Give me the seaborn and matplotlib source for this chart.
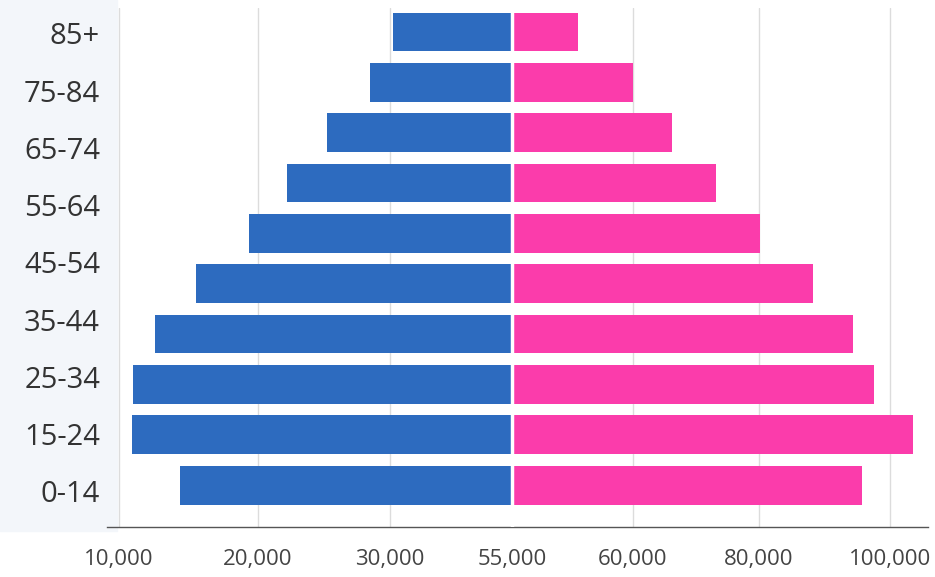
import matplotlib
matplotlib.use("Agg")
import matplotlib.pyplot as plt
import numpy as np
import pandas as pd
import seaborn as sns

# ---------------- Data ----------------
age_groups = ["85+", "75-84", "65-74", "55-64", "45-54", "35-44", "25-34", "15-24", "0-14"]
bar_rows = ["r1", "r2", "r3", "r4", "r5", "r6", "r7", "r8", "r9", "r10"]   # the chart draws 10 bars
male = [119, 142, 185, 225, 263, 316, 357, 379, 380, 332]
female = [66, 121, 160, 204, 248, 301, 341, 362, 401, 350]
tick_values = [-393, -254, -122, 0, 121, 247, 378]
tick_labels = ["10,000", "20,000", "30,000", "55,000", "60,000", "80,000", "100,000"]

blue, pink = "#2d6bbf", "#fb3cab"

df = pd.concat([
    pd.DataFrame({"row": bar_rows, "sex": "Male", "value": [-v for v in male]}),
    pd.DataFrame({"row": bar_rows, "sex": "Female", "value": female}),
])

sns.set_style("white")
plt.rcParams["font.family"] = ["Open Sans", "DejaVu Sans"]

fig = plt.figure(figsize=(9.35, 5.77), dpi=100)
# faint tinted panel behind the age labels
fig.patches.append(plt.Rectangle((0, 0.08), 0.125, 0.92, transform=fig.transFigure,
                                 color="#f3f6fa", zorder=-1))
ax = fig.add_axes([0.1144, 0.0867, 0.878, 0.899])
ax.set_facecolor("none")

sns.barplot(data=df, y="row", x="value", hue="sex", orient="h", dodge=False,
            palette={"Male": blue, "Female": pink}, width=0.77, saturation=1,
            linewidth=0, ax=ax, zorder=3)
ax.get_legend().remove()
ax.axvline(0, color="white", lw=2.5, zorder=4)

ax.set_xlim(-405, 416)
ax.set_ylim(9.83, -0.47)

ax.set_xticks(tick_values)
ax.set_xticklabels(tick_labels, fontsize=16, color="#444444")
ax.set_yticks(np.linspace(0.03, 9.12, len(age_groups)))
ax.set_yticklabels(age_groups, fontsize=21, color="#333333")
ax.tick_params(axis="x", direction="in", length=4, width=1, color="#444444", pad=16)
ax.tick_params(axis="y", length=0, pad=5)
ax.set_xlabel(""); ax.set_ylabel("")

ax.xaxis.grid(True, color="#dcdcdc", lw=1, zorder=0)
ax.yaxis.grid(False)
ax.set_axisbelow(True)
for s in ["top", "right", "left"]:
    ax.spines[s].set_visible(False)
ax.spines["bottom"].set_color("#555555")
ax.spines["bottom"].set_linewidth(1)

fig.savefig("out.png", dpi=100)
